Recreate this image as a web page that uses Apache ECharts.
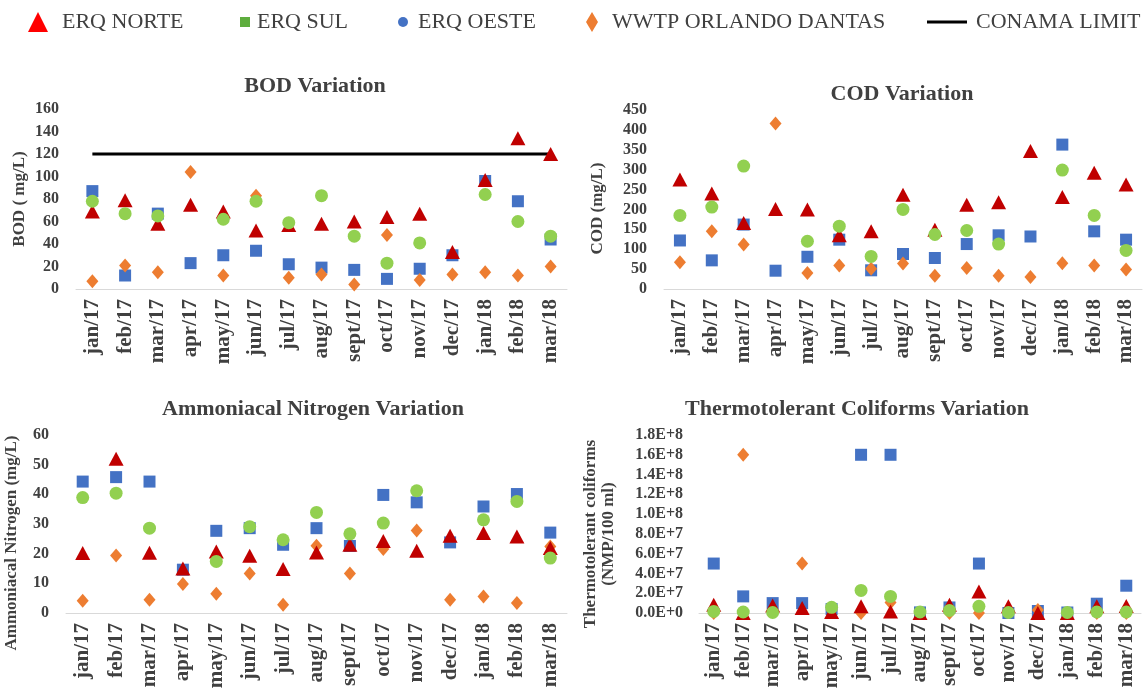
<!DOCTYPE html>
<html>
<head>
<meta charset="utf-8">
<script src="https://cdn.jsdelivr.net/npm/echarts@6/dist/echarts.min.js"></script>
<style>
html,body{margin:0;padding:0;background:#fff;}
#chart{width:1143px;height:695px;}
</style>
</head>
<body>
<div id="chart"></div>
<script>
const months = ['jan/17','feb/17','mar/17','apr/17','may/17','jun/17','jul/17','aug/17','sept/17','oct/17','nov/17','dec/17','jan/18','feb/18','mar/18'];

// BOD (mg/L)
const bodNorte = [69,79,58,75,69,52,57,58,60,64,67,33,97,134,120];
const bodSul   = [78,67,65,null,62,78,59,83,47,23,41,null,84,60,47];
const bodOeste = [87,12,67,23,30,34,22,19,17,9,18,30,96,78,44];
const bodWwtp  = [7,21,15,104,12,83,10,13,4,48,8,13,15,12,20];
const conamaLimit = [120,120,120,120,120,120,120,120,120,120,120,120,120,120,120];

// COD (mg/L)
const codNorte = [275,240,166,201,200,135,145,237,149,212,218,347,231,292,263];
const codSul   = [185,206,309,null,120,158,82,200,137,147,113,null,299,185,97];
const codOeste = [122,72,162,46,81,124,47,88,78,113,135,132,363,145,124];
const codWwtp  = [67,145,112,416,40,59,51,64,33,53,33,30,65,59,49];

// Ammoniacal nitrogen (mg/L)
const nhNorte = [20.2,52,20.3,15,20.7,19.3,14.8,20.4,23,24.3,21,26,27,25.8,21.9];
const nhSul   = [38.9,40.4,28.6,null,17.4,29.1,24.7,33.9,26.7,30.3,41.2,null,31.4,37.6,18.5];
const nhOeste = [44.3,45.8,44.3,14.6,27.7,28.6,23,28.6,22.6,39.8,37.3,23.8,35.9,40.1,27.1];
const nhWwtp  = [4.1,19.4,4.5,9.8,6.5,13.3,2.8,22.7,13.3,21.6,27.8,4.5,5.6,3.4,22.4];

// Thermotolerant coliforms (NMP/100 ml)
const tcNorte = [8.4e6,0,7.7e6,5e6,1e6,6.7e6,1.6e6,0,8.4e6,2.18e7,6.7e6,0,0,6.7e6,7e6];
const tcSul   = [1.6e6,1e6,5e5,null,5.7e6,2.28e7,1.68e7,1e6,2.6e6,6.7e6,5e5,null,5e5,1e6,1e6];
const tcOeste = [5.0e7,1.68e7,1.0e7,1.0e7,4e6,1.6e8,1.6e8,6e5,5.6e6,5.0e7,0,2e6,5e5,9.4e6,2.76e7];
const tcWwtp  = [0,1.6e8,2e6,5.0e7,3e6,0,1.07e7,0,0,0,1e6,3e6,0,0,0];

const yTicks = {bod:[0,160,20], cod:[0,450,50], nh:[0,60,10], tc:[0,1.8e8,2e7]};

const FONT = "'Liberation Serif','Times New Roman',serif";
const TXT = '#404040';
const C_TRI = '#C00000', C_SQ = '#4472C4', C_CIR = '#92D050', C_DIA = '#ED7D31';

const grids = [
  {left:76, top:109, width:491, height:180},
  {left:664, top:110, width:478, height:179},
  {left:66, top:435, width:501, height:178},
  {left:699, top:435, width:442, height:178}
];

const titles = [
  {text:'BOD Variation', x:315, y:75},
  {text:'COD Variation', x:902, y:83},
  {text:'Ammoniacal Nitrogen Variation', x:313, y:398},
  {text:'Thermotolerant Coliforms Variation', x:857, y:398}
];

function xAxisFor(i){
  return {
    type:'category', gridIndex:i, data:months, boundaryGap:true,
    axisLine:{show:true, lineStyle:{color:'#D9D9D9', width:1}},
    axisTick:{show:false},
    axisLabel:{rotate:90, margin:10, fontFamily:FONT, fontWeight:'bold', fontSize:21, color:TXT, interval:0}
  };
}
function yAxisFor(i, ticks, name, nameGap, padRight, margin, fmt){
  return {
    type:'value', gridIndex:i, min:ticks[0], max:ticks[1], interval:ticks[2],
    name:name, nameLocation:'middle', nameGap:nameGap,
    nameTextStyle:{fontFamily:FONT, fontWeight:'bold', fontSize:17, color:TXT, padding:[0,padRight,0,0], lineHeight:18},
    axisLine:{show:false}, axisTick:{show:false}, splitLine:{show:false},
    axisLabel:{fontFamily:FONT, fontWeight:'bold', fontSize:16, color:TXT, margin:margin, formatter:fmt}
  };
}

function pts(name, i, data, symbol, size, color){
  return {name:name, type:'scatter', xAxisIndex:i, yAxisIndex:i, data:data,
    symbol:symbol, symbolSize:size, itemStyle:{color:color, opacity:1}, emphasis:{disabled:true}};
}
function panelSeries(i, norte, sul, oeste, wwtp){
  return [
    pts('ERQ OESTE', i, oeste, 'rect', 12, C_SQ),
    pts('WWTP ORLANDO DANTAS', i, wwtp, 'diamond', [12,14], C_DIA),
    pts('ERQ NORTE', i, norte, 'triangle', [15,14], C_TRI),
    pts('ERQ SUL', i, sul, 'circle', 13, C_CIR)
  ];
}

const legendDefs = [
  {name:'ERQ NORTE', icon:'triangle', left:28, w:20, h:20, color:'#FF0000', pad:9},
  {name:'ERQ SUL', icon:'rect', left:240, w:10, h:10, color:'#5EAD3E', pad:2},
  {name:'ERQ OESTE', icon:'circle', left:398, w:10, h:10, color:'#4472C4', pad:5},
  {name:'WWTP ORLANDO DANTAS', icon:'diamond', left:586, w:12, h:20, color:'#ED7D31', pad:9},
  {name:'CONAMA LIMIT', icon:'rect', left:927, w:40, h:3, color:'#000000', pad:4}
];

const option = {
  backgroundColor:'#fff',
  animation:false,
  title: titles.map(t => ({text:t.text, left:t.x, top:t.y, textAlign:'center', padding:0,
    textStyle:{fontFamily:FONT, fontWeight:'bold', fontSize:22, color:TXT}})),
  legend: legendDefs.map(l => ({
    left:l.left, top:11, padding:0, itemWidth:l.w, itemHeight:l.h, selectedMode:false,
    data:[{name:l.name, icon:l.icon, itemStyle:{color:l.color, borderWidth:0}, lineStyle:{width:0}}],
    textStyle:{fontFamily:FONT, fontSize:22, color:TXT, padding:[0,0,0,l.pad]}
  })),
  grid: grids,
  xAxis: [0,1,2,3].map(xAxisFor),
  yAxis: [
    yAxisFor(0, yTicks.bod, 'BOD ( mg/L)', 47, 0, 17, null),
    yAxisFor(1, yTicks.cod, 'COD (mg/L)', 57, 18, 17, null),
    yAxisFor(2, yTicks.nh, 'Ammoniacal Nitrogen (mg/L)', 45, 38, 17, null),
    yAxisFor(3, yTicks.tc, 'Thermotolerant coliforms\n(NMP/100 ml)', 81, 20, 16, v => v.toExponential(1).toUpperCase())
  ],
  series: [
    ...panelSeries(0, bodNorte, bodSul, bodOeste, bodWwtp),
    {name:'CONAMA LIMIT', type:'line', xAxisIndex:0, yAxisIndex:0, data:conamaLimit, showSymbol:false, symbol:'none',
      lineStyle:{color:'#000', width:3}, itemStyle:{color:'#000'}, emphasis:{disabled:true}, z:1},
    ...panelSeries(1, codNorte, codSul, codOeste, codWwtp),
    ...panelSeries(2, nhNorte, nhSul, nhOeste, nhWwtp),
    ...panelSeries(3, tcNorte, tcSul, tcOeste, tcWwtp)
  ]
};

const chart = echarts.init(document.getElementById('chart'), null, {renderer:'canvas'});
chart.setOption(option);
</script>
</body>
</html>
